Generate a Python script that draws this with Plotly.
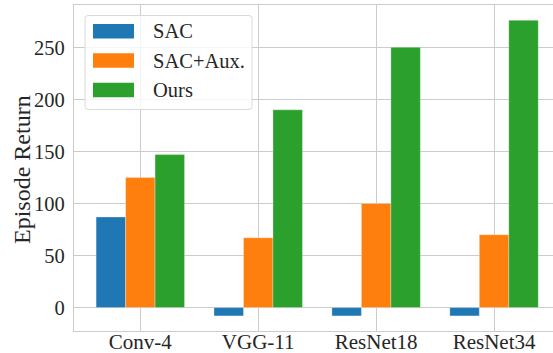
import plotly.graph_objects as go

# Data
backbones = ["Conv-4", "VGG-11", "ResNet18", "ResNet34"]
methods = ["SAC", "SAC+Aux.", "Ours"]
sac = [87, -8, -8, -8]
sac_aux = [125, 67, 100, 70]
ours = [147, 190, 250, 276]
y_ticks = [0, 50, 100, 150, 200, 250]

colors = ["#1f77b4", "#ff7f0e", "#2ca02c"]
series = [sac, sac_aux, ours]

W, H = 553, 353
ML, MR, MT, MB = 74, 0, 5, 22
FONT = "Liberation Serif, Times New Roman, serif"
GRID = "#cccccc"
TEXT = "#262626"

fig = go.Figure()
for name, vals, col in zip(methods, series, colors):
    fig.add_trace(go.Bar(
        x=backbones, y=vals, name=name,
        marker=dict(color=col, line=dict(color="rgba(255,255,255,0.5)", width=0.6)),
        showlegend=False,
    ))

pw = W - ML - MR
ph = H - MT - MB


def px(x):
    return (x - ML) / pw


def py(y):
    return (H - MB - y) / ph


# Legend box with rounded corners
x0, x1, y0, y1, r = 85, 252, 15.5, 109.5, 3
path = (
    f"M {px(x0 + r)} {py(y0)} L {px(x1 - r)} {py(y0)} "
    f"Q {px(x1)} {py(y0)} {px(x1)} {py(y0 + r)} "
    f"L {px(x1)} {py(y1 - r)} Q {px(x1)} {py(y1)} {px(x1 - r)} {py(y1)} "
    f"L {px(x0 + r)} {py(y1)} Q {px(x0)} {py(y1)} {px(x0)} {py(y1 - r)} "
    f"L {px(x0)} {py(y0 + r)} Q {px(x0)} {py(y0)} {px(x0 + r)} {py(y0)} Z"
)
shapes = [dict(type="path", xref="paper", yref="paper", path=path,
               fillcolor="rgba(255,255,255,0.8)", line=dict(color="#d9d9d9", width=1),
               layer="above")]
annotations = []
row_centers = [31.2, 60.5, 90.0]
for name, col, yc in zip(methods, colors, row_centers):
    shapes.append(dict(type="rect", xref="paper", yref="paper",
                       x0=px(93), x1=px(134), y0=py(yc - 7.2), y1=py(yc + 7.2),
                       fillcolor=col, line=dict(width=0), layer="above"))
    annotations.append(dict(x=px(151), y=py(yc), xref="paper", yref="paper",
                            text=name, showarrow=False, xanchor="left", yanchor="middle",
                            font=dict(family=FONT, size=20.5, color=TEXT)))

# y-axis title
annotations.append(dict(x=px(22), y=py(170), xref="paper", yref="paper",
                        text="Episode Return", textangle=-90, showarrow=False,
                        xanchor="center", yanchor="middle",
                        font=dict(family=FONT, size=24, color=TEXT)))

fig.update_layout(
    width=W, height=H,
    margin=dict(l=ML, r=MR, t=MT, b=MB, pad=0),
    paper_bgcolor="white", plot_bgcolor="white",
    barmode="group", bargap=0.25, bargroupgap=0,
    font=dict(family=FONT, size=21, color=TEXT),
    shapes=shapes, annotations=annotations,
    showlegend=False,
)
fig.update_xaxes(
    type="category", range=[-0.5625, 3.5],
    showgrid=True, gridcolor=GRID, gridwidth=1,
    showline=True, linecolor=GRID, linewidth=1.3, mirror=True,
    ticks="", ticklabelstandoff=-8,
    tickfont=dict(family=FONT, size=21, color=TEXT),
    automargin=False,
)
fig.update_yaxes(
    range=[-22.5, 290.7], tickvals=y_ticks,
    showgrid=True, gridcolor=GRID, gridwidth=1, zeroline=False,
    showline=True, linecolor=GRID, linewidth=1.3, mirror=False,
    ticks="outside", ticklen=4, tickcolor="rgba(0,0,0,0)",
    tickfont=dict(family=FONT, size=20.5, color=TEXT),
    automargin=False,
)

fig.write_html("out.html")
